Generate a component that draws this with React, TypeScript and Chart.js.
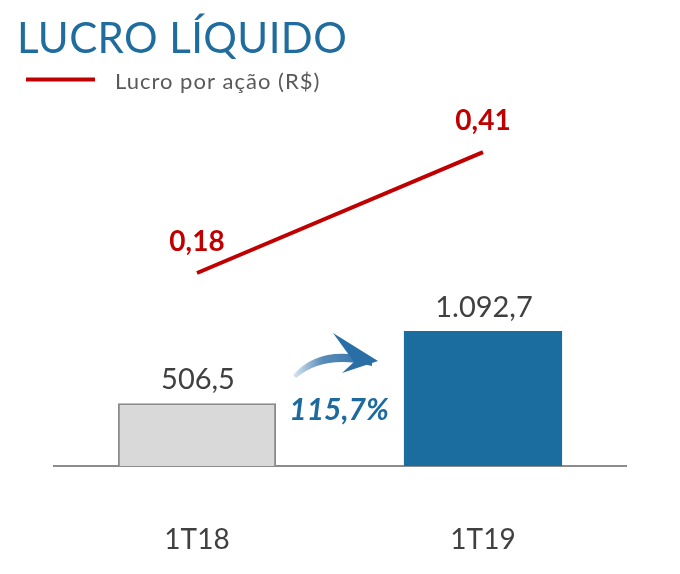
import React, { useEffect, useRef } from 'react';
import { Chart, registerables } from 'chart.js';

Chart.register(...registerables);

const categories = ['1T18', '1T19'];
const lucroLiquido = [506.5, 1092.7];
const lucroLabels = ['506,5', '1.092,7'];
const lucroPorAcao = [0.18, 0.41];
const lpaLabels = ['0,18', '0,41'];
const growthLabel = '115,7%';
const titleText = 'LUCRO LÍQUIDO';
const legendLabel = 'Lucro por ação (R$)';

const FONT = 'Lato, "Open Sans", sans-serif';
const BLUE = '#1b6c9f';
const RED = '#c00000';

const overlay = {
  id: 'overlay',
  afterDraw(chart: any) {
    const ctx = chart.ctx as any;
    const area = chart.chartArea;
    ctx.save();

    // Title
    ctx.textAlign = 'left';
    ctx.textBaseline = 'alphabetic';
    ctx.fillStyle = '#1f6c9e';
    ctx.font = `400 42px ${FONT}`;
    ctx.letterSpacing = '0.4px';
    ctx.fillText(titleText, 17, 53);

    // Legend
    ctx.strokeStyle = RED;
    ctx.lineWidth = 4;
    ctx.beginPath();
    ctx.moveTo(26, 79.5);
    ctx.lineTo(95, 79.5);
    ctx.stroke();
    ctx.fillStyle = '#595959';
    ctx.font = `400 22px ${FONT}`;
    ctx.letterSpacing = '1px';
    ctx.fillText(legendLabel, 115, 89);
    ctx.letterSpacing = '0px';

    // Bar value labels
    const barMeta = chart.getDatasetMeta(0);
    ctx.textAlign = 'center';
    ctx.fillStyle = '#404040';
    ctx.font = `400 29px ${FONT}`;
    barMeta.data.forEach((el: any, i: number) => {
      ctx.fillText(lucroLabels[i], el.x + 1, el.y - 14);
    });

    // Line value labels
    const lineMeta = chart.getDatasetMeta(1);
    ctx.fillStyle = RED;
    ctx.font = `bold 28px ${FONT}`;
    lineMeta.data.forEach((el: any, i: number) => {
      ctx.fillText(lpaLabels[i], el.x, el.y - 22);
    });

    // Growth arrow + label between the bars
    const b0: any = barMeta.data[0];
    const b1: any = barMeta.data[1];
    const cx = (b0.x + b0.width / 2 + b1.x - b1.width / 2) / 2;
    const by = area.bottom;
    const P = (dx: number, dy: number): [number, number] => [cx + dx, by + dy];

    const grad = ctx.createLinearGradient(cx - 48, 0, cx + 40, 0);
    grad.addColorStop(0, 'rgba(45,111,166,0.15)');
    grad.addColorStop(0.35, 'rgba(45,111,166,0.8)');
    grad.addColorStop(1, 'rgba(40,108,165,1)');
    ctx.fillStyle = grad;
    ctx.beginPath();
    let p = P(-47, -91);
    ctx.moveTo(p[0], p[1]);
    let c = P(-20, -122);
    p = P(32, -108);
    ctx.quadraticCurveTo(c[0], c[1], p[0], p[1]);
    p = P(32, -100);
    ctx.lineTo(p[0], p[1]);
    c = P(-16, -112);
    p = P(-44, -88);
    ctx.quadraticCurveTo(c[0], c[1], p[0], p[1]);
    ctx.closePath();
    ctx.fill();

    ctx.fillStyle = '#2a6ea6';
    ctx.beginPath();
    p = P(-7, -133); ctx.moveTo(p[0], p[1]);
    p = P(38, -105); ctx.lineTo(p[0], p[1]);
    p = P(2, -93); ctx.lineTo(p[0], p[1]);
    p = P(14, -104); ctx.lineTo(p[0], p[1]);
    ctx.closePath();
    ctx.fill();

    ctx.fillStyle = '#1c6a9e';
    ctx.font = `italic bold 30px ${FONT}`;
    ctx.textAlign = 'center';
    p = P(-1, -46);
    ctx.fillText(growthLabel, p[0], p[1]);

    ctx.restore();
  },
};

export default function App() {
  const ref = useRef<HTMLCanvasElement | null>(null);

  useEffect(() => {
    document.body.style.margin = '0';
    const canvas = ref.current!;
    const chart = new Chart(canvas, {
      type: 'bar',
      data: {
        labels: categories,
        datasets: [
          {
            type: 'bar',
            label: 'Lucro Líquido',
            data: lucroLiquido,
            backgroundColor: ['#d9d9d9', BLUE],
            borderColor: ['#8c8c8c', BLUE],
            borderWidth: [2, 0],
            borderSkipped: 'bottom',
            categoryPercentage: 1,
            barPercentage: 0.553,
            yAxisID: 'y',
            order: 2,
          } as any,
          {
            type: 'line',
            label: legendLabel,
            data: lucroPorAcao,
            borderColor: RED,
            borderWidth: 4,
            pointRadius: 0,
            tension: 0,
            yAxisID: 'y1',
            order: 1,
          } as any,
        ],
      },
      options: {
        responsive: false,
        animation: false,
        devicePixelRatio: 1,
        layout: { padding: { top: 100, left: 54, right: 54, bottom: 15 } },
        plugins: {
          legend: { display: false },
          title: { display: false },
          tooltip: { enabled: false },
        },
        scales: {
          x: {
            grid: { display: false, drawTicks: false },
            border: { display: true, color: '#8c8c8c', width: 2 },
            ticks: {
              padding: 57,
              color: '#404040',
              font: { family: FONT, size: 28, weight: '400' as any },
            },
            afterFit: (scale: any) => {
              scale.height = 93;
            },
          },
          y: { display: false, min: 0, max: 2960 },
          y1: { display: false, min: -0.187, max: 0.509 },
        },
      },
      plugins: [overlay],
    });
    return () => chart.destroy();
  }, []);

  return <canvas ref={ref} width={680} height={574} style={{ display: 'block', width: 680, height: 574 }} />;
}
